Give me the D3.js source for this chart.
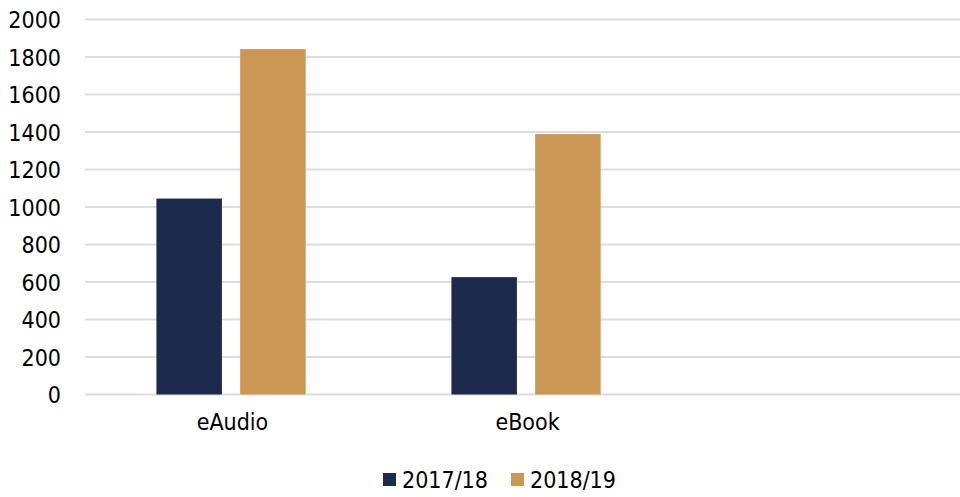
<!DOCTYPE html>
<html>
<head>
<meta charset="utf-8">
<script src="https://cdn.jsdelivr.net/npm/d3@7"></script>
<style>
  html, body { margin: 0; padding: 0; background: #fff; }
  svg { display: block; font-family: "DejaVu Sans Condensed", "DejaVu Sans", sans-serif; }
</style>
</head>
<body>
<svg id="chart" width="960" height="497"></svg>
<script>
// Loans by format, two years side by side
const categories = ["eAudio", "eBook", ""];
const seriesNames = ["2017/18", "2018/19"];
const values2017 = [1045, 626, null];
const values2018 = [1842, 1389, null];
const yTicks = [0, 200, 400, 600, 800, 1000, 1200, 1400, 1600, 1800, 2000];
const colors = ["#1c2b4d", "#cb9755"];

const svg = d3.select("#chart");
const plotLeft = 85, plotRight = 970, plotTop = 19.5, plotBottom = 394.5;

const x = d3.scaleBand().domain(categories).range([plotLeft, plotRight]).paddingInner(0).paddingOuter(0);
const x1 = d3.scaleBand().domain(seriesNames).range([0, x.bandwidth()])
  .paddingInner(0.218).paddingOuter(0.87).align(0.49);
const y = d3.scaleLinear().domain([0, 2000]).range([plotBottom, plotTop]);

// Gridlines
svg.append("g")
  .selectAll("line")
  .data(yTicks)
  .join("line")
  .attr("x1", plotLeft).attr("x2", 960)
  .attr("y1", d => y(d)).attr("y2", d => y(d))
  .attr("stroke", "#dddddb")
  .attr("stroke-width", 2);

// Y axis labels
const yAxis = d3.axisLeft(y).tickValues(yTicks).tickFormat(d3.format("d")).tickSize(0).tickPadding(0);
const gy = svg.append("g").attr("transform", "translate(61,0)").call(yAxis);
gy.select(".domain").remove();
gy.selectAll("text")
  .attr("font-size", 23)
  .attr("font-family", "DejaVu Sans Condensed, DejaVu Sans, sans-serif")
  .attr("fill", "#000")
  .attr("dy", "0.35em");

// Bars
const rows = categories.map((c, i) => ({ cat: c, vals: [values2017[i], values2018[i]] }));
const groups = svg.append("g")
  .selectAll("g")
  .data(rows)
  .join("g")
  .attr("transform", d => `translate(${x(d.cat)},0)`);

groups.selectAll("rect")
  .data(d => d.vals.map((v, j) => ({ v, s: seriesNames[j], j })).filter(e => e.v != null))
  .join("rect")
  .attr("x", d => x1(d.s))
  .attr("width", x1.bandwidth())
  .attr("y", d => y(d.v))
  .attr("height", d => y(0) - y(d.v))
  .attr("fill", d => colors[d.j]);

// X axis labels
const xAxis = d3.axisBottom(x).tickSize(0).tickPadding(0);
const gx = svg.append("g").attr("transform", `translate(0,${plotBottom + 19})`).call(xAxis);
gx.select(".domain").remove();
gx.selectAll("text")
  .attr("font-size", 23)
  .attr("font-family", "DejaVu Sans Condensed, DejaVu Sans, sans-serif")
  .attr("fill", "#000");

// Legend
const legendX = [383, 511];
const legend = svg.append("g");
seriesNames.forEach((name, i) => {
  legend.append("rect")
    .attr("x", legendX[i]).attr("y", 473)
    .attr("width", 13).attr("height", 13)
    .attr("fill", colors[i]);
  legend.append("text")
    .attr("x", legendX[i] + 19).attr("y", 488)
    .attr("font-size", 23)
    .attr("fill", "#000")
    .text(name);
});
</script>
</body>
</html>
